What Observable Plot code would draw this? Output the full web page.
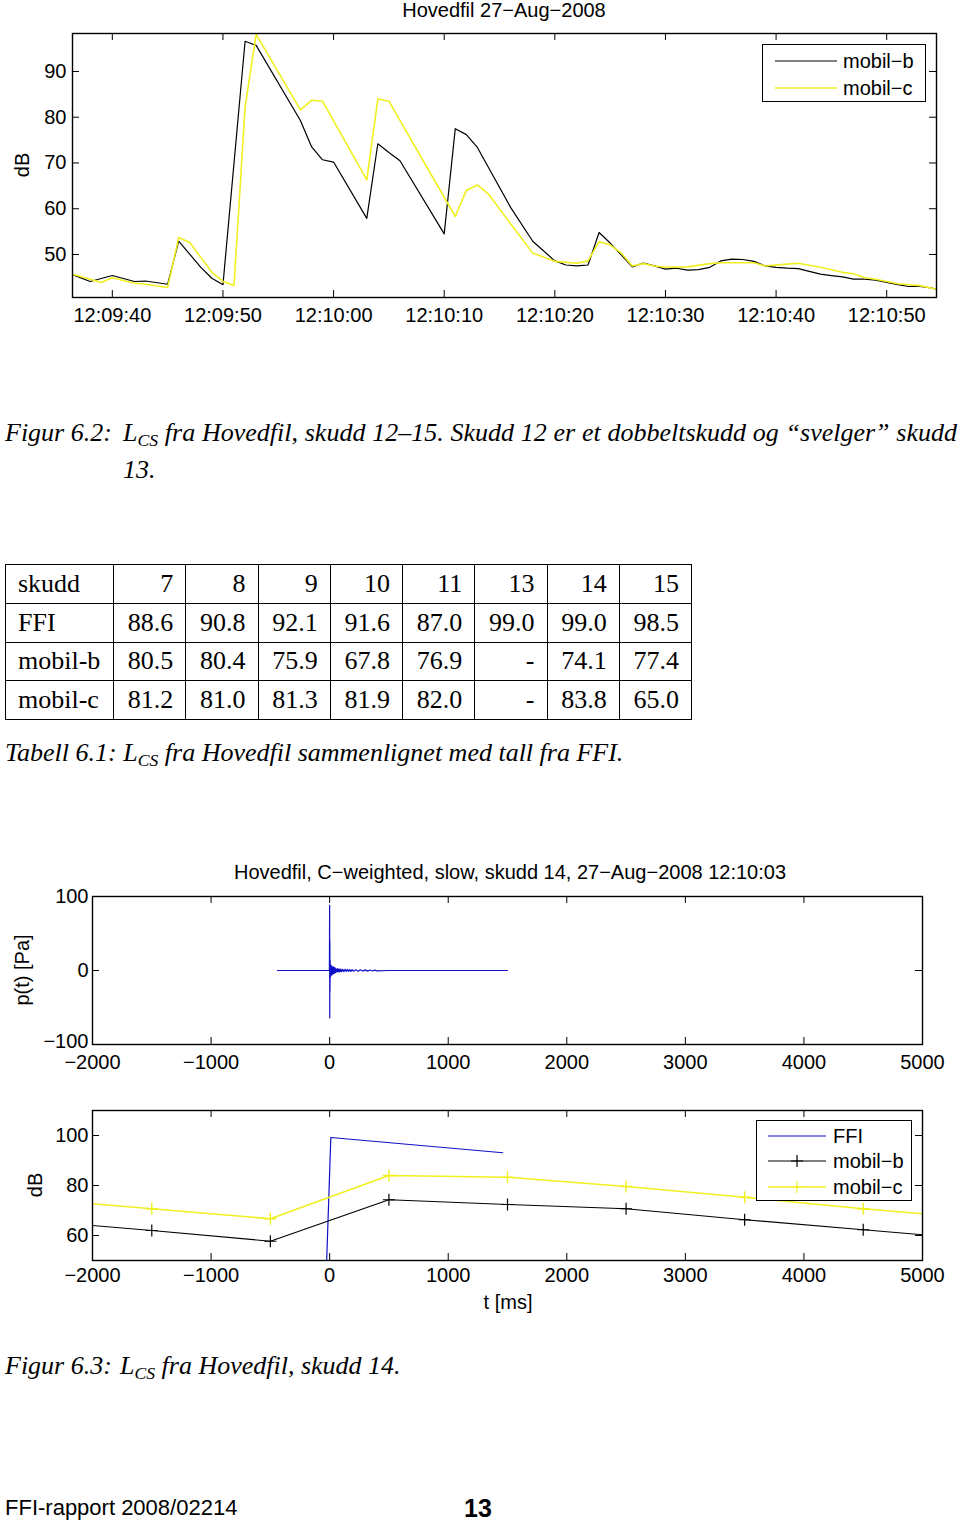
<!DOCTYPE html>
<html><head><meta charset="utf-8">
<script src="https://cdn.jsdelivr.net/npm/d3@7"></script>
<script src="https://cdn.jsdelivr.net/npm/@observablehq/plot@0.6"></script>
<style>
body{margin:0;background:#fff;}
#page{position:relative;width:960px;height:1524px;overflow:hidden;background:#fff;color:#000;}
.abs{position:absolute;white-space:nowrap;}
.sans{font-family:"Liberation Sans",Arial,sans-serif;font-size:20px;line-height:1;}
.serif{font-family:"Liberation Serif","Times New Roman",serif;font-size:26px;line-height:1;}
.it{font-style:italic;}
.vc{transform:translateY(-50%);}
.hc{transform:translate(-50%,-50%);}
.rot{transform:translate(-50%,-50%) rotate(-90deg);}
sub{font-size:0.68em;vertical-align:-0.28em;line-height:0;}
table.t{border-collapse:collapse;table-layout:fixed;width:686px;font-family:"Liberation Serif","Times New Roman",serif;font-size:26px;}
table.t td{border:1.5px solid #000;height:38.75px;padding:0 12px 0 12px;text-align:right;line-height:1;box-sizing:border-box;}
table.t td:first-child{text-align:left;}
.legend{position:absolute;border:1.3px solid #000;background:#fff;box-sizing:border-box;}
.legend .row{position:absolute;left:0;display:flex;align-items:center;}
.legend svg{display:block;}
</style></head>
<body><div id="page"></div>
<script>
// ---------- Figure 6.2 data (seconds after 12:09:40) ----------
const timeB = [-3.6,-2,0,2,3,5,6,8,9,10,12,13,17,18,19,20,23,24,25,26,30,31,32,33,36,38,40,41,42,43,44,45,46,47,48,49,50,51,52,53,54,55,56,57,58,59,60,61,62,63,64,65,66,67,68,69,70,71,72,73,74,74.5];
const dbB   = [45.6,44.1,45.4,44.1,44.2,43.5,52.9,47.2,44.8,43.4,96.6,95.7,79.3,73.6,70.7,70.2,57.9,74.2,72.3,70.5,54.5,77.5,76.2,73.4,60.3,52.9,48.6,47.7,47.5,47.7,54.8,52.5,49.9,47.3,48.1,47.5,46.8,47.0,46.6,46.7,47.2,48.6,49.0,48.9,48.5,47.5,47.2,47.0,46.9,46.3,45.7,45.4,45.1,44.6,44.6,44.4,43.9,43.4,43.0,43.0,42.7,42.4];
const timeC = [-3.6,-2,-1,0,2,3,5,6,7,9,10,11,12,13,17,18,19,23,24,25,31,32,33,34,36,38,40,42,43,44,45,46,47,48,49,50,52,54,55,58,59,61,62,64,66,67,68,69,71,73,74.5];
const dbC   = [45.7,44.6,43.9,44.9,43.7,43.5,42.8,53.7,52.6,46.1,44.1,43.2,82.2,98.1,81.6,83.7,83.5,66.3,84.0,83.5,58.3,64.0,65.2,63.2,56.7,50.3,48.5,48.1,48.6,52.8,52.1,50.3,47.5,48.0,47.5,47.2,47.3,48.0,48.2,48.2,47.5,47.9,48.1,47.2,46.1,45.8,44.9,44.6,43.6,43.2,42.4];
const xTicks1 = [0,10,20,30,40,50,60,70];
const yTicks1 = [50,60,70,80,90];

// ---------- Table 6.1 ----------
const shots   = ["7","8","9","10","11","13","14","15"];
const ffiVals = ["88.6","90.8","92.1","91.6","87.0","99.0","99.0","98.5"];
const mobB    = ["80.5","80.4","75.9","67.8","76.9","-","74.1","77.4"];
const mobC    = ["81.2","81.0","81.3","81.9","82.0","-","83.8","65.0"];

// ---------- Figure 6.3 data ----------
const pT  = [-440,-2,0,1,2,3,4,6,8,10,12,14,16,18,20,22,24,26,28,30,32,34,36,38,40,42,44,46,48,50,55,60,65,70,75,80,85,90,95,100,110,120,130,140,150,160,170,180,190,200,220,240,260,280,300,320,340,360,380,400,500,1500];
const pPa = [0,0,88,-64,40,-28,14,-9,8,-7,7,-6,6,-6,5,-5,5,-5,4,-4,5,-4,4,-4,3,-3,4,-3,3,-3,2,-2,2.5,-2,2,-2,2,-1.5,2,-1.5,1.5,-1.5,1.5,-1.2,1.5,-1.2,1.2,-1.2,1.2,-1,1,-1,1,-0.8,0.8,-0.8,0.6,-0.6,0.5,-0.5,0,0];
const ffiT  = [-25,10,1460];
const ffiDb = [50,99.2,93.1];
const tMs   = [-2000,-1500,-500,500,1500,2500,3500,4500,5000];
const bDb   = [64.0,62.0,57.7,74.3,72.4,70.7,66.3,62.3,60.3];
const cDb   = [72.7,70.7,66.7,84.0,83.3,79.6,75.3,70.7,68.7];
const xTicks2 = [-2000,-1000,0,1000,2000,3000,4000,5000];
const yTicks2 = [-100,0,100];
const yTicks3 = [60,80,100];

const YEL = "#f0f020", BLU = "#1010c8";
const fmtNum = d => (d < 0 ? "\u2212" : "") + Math.abs(d);
const plusSym = {draw(ctx, size) { const r = Math.sqrt(size / Math.PI); ctx.moveTo(-r, 0); ctx.lineTo(r, 0); ctx.moveTo(0, -r); ctx.lineTo(0, r); }};
const page = document.getElementById("page");
function add(html, cls, left, top, extra) {
  const d = document.createElement("div");
  d.className = "abs " + cls;
  d.style.left = left + "px"; d.style.top = top + "px";
  if (extra) Object.assign(d.style, extra);
  d.innerHTML = html;
  page.appendChild(d);
  return d;
}
function place(svg, top) {
  svg.style.position = "absolute"; svg.style.left = "0px"; svg.style.top = top + "px";
  page.appendChild(svg);
}
function boxTicks(xt, yt, fw, fh) {
  return [
    Plot.tickX(xt, {x: d => d, insetTop: fh - 7, stroke: "#000"}),
    Plot.tickX(xt, {x: d => d, insetBottom: fh - 7, stroke: "#000"}),
    Plot.tickY(yt, {y: d => d, insetRight: fw - 7, stroke: "#000"}),
    Plot.tickY(yt, {y: d => d, insetLeft: fw - 7, stroke: "#000"}),
    Plot.frame({stroke: "#000", strokeWidth: 1.4})
  ];
}
const style = {fontFamily: '"Liberation Sans", Arial, sans-serif', fontSize: "20px", color: "#000", background: "transparent", overflow: "visible"};

// ---------- Chart 1 ----------
const base = Date.UTC(2008, 7, 27, 12, 9, 40);
const toDate = s => new Date(base + s * 1000);
const serB = timeB.map((t, i) => ({t: toDate(t), v: dbB[i]}));
const serC = timeC.map((t, i) => ({t: toDate(t), v: dbC[i]}));
const xt1 = xTicks1.map(toDate);
{
  const W = 960, H = 310, mt = 11, mb = 35, ml = 72, mr = 24;
  const svg = Plot.plot({
    width: W, height: H, marginTop: mt, marginBottom: mb, marginLeft: ml, marginRight: mr,
    style,
    x: {type: "utc", domain: [toDate(-3.6), toDate(74.5)]},
    y: {domain: [40.6, 98.3]},
    marks: [
      Plot.line(serB, {x: "t", y: "v", stroke: "#000", strokeWidth: 1.2}),
      Plot.line(serC, {x: "t", y: "v", stroke: YEL, strokeWidth: 1.6}),
      ...boxTicks(xt1, yTicks1, W - ml - mr, H - mt - mb),
      Plot.axisX({ticks: xt1, tickSize: 0, tickPadding: 10, tickFormat: d3.utcFormat("%H:%M:%S"), label: null}),
      Plot.axisY({ticks: yTicks1, tickSize: 0, tickPadding: 6, label: null})
    ]
  });
  place(svg, 22);
}
add("Hovedfil 27−Aug−2008", "sans hc", 504, 10);
add("dB", "sans rot", 22, 165);
function legend(left, top, w, h, rows) {
  const d = document.createElement("div");
  d.className = "legend";
  Object.assign(d.style, {left: left + "px", top: top + "px", width: w + "px", height: h + "px"});
  rows.forEach(r => {
    const row = document.createElement("div");
    row.className = "row sans";
    row.style.top = (r.y - top - 11) + "px";
    row.style.height = "22px";
    row.style.left = (r.x0 - left - 1) + "px";
    const len = r.x1 - r.x0;
    row.innerHTML = `<svg width="${len}" height="22"><line x1="0" x2="${len}" y1="11" y2="11" stroke="${r.color}" stroke-width="${r.sw}"/>` +
      (r.marker ? `<path d="M${len/2-6},11H${len/2+6}M${len/2},5V17" stroke="${r.color}" stroke-width="1.2"/>` : "") +
      `</svg><span style="margin-left:${r.gap}px">${r.label}</span>`;
    d.appendChild(row);
  });
  page.appendChild(d);
}
legend(762, 44, 164, 58, [
  {y: 60, x0: 775, x1: 837, color: "#000", sw: 1.2, label: "mobil−b", gap: 6},
  {y: 87, x0: 775, x1: 837, color: YEL, sw: 1.6, label: "mobil−c", gap: 6}
]);

// ---------- Caption 6.2 ----------
add("Figur 6.2:", "serif it vc", 5, 433);
const cap1 = add('<i>L</i><sub>CS</sub> fra Hovedfil, skudd 12–15. Skudd 12 er et dobbeltskudd og “svelger” skudd', "serif it vc", 123, 433);
add("13.", "serif it vc", 123, 470);

// ---------- Table ----------
{
  const tbl = document.createElement("table");
  tbl.className = "t";
  const rows = [["skudd", ...shots], ["FFI", ...ffiVals], ["mobil-b", ...mobB], ["mobil-c", ...mobC]];
  tbl.innerHTML = '<colgroup><col style="width:108px">' + shots.map(() => '<col style="width:72.25px">').join("") + "</colgroup>" +
    rows.map(r => "<tr>" + r.map(c => `<td>${c}</td>`).join("") + "</tr>").join("");
  const d = add("", "", 5, 564);
  d.appendChild(tbl);
}
add('Tabell 6.1: <i>L</i><sub>CS</sub> fra Hovedfil sammenlignet med tall fra FFI.', "serif it vc", 5, 753);

// ---------- Chart 2 ----------
{
  const W = 960, H = 190, mt = 12, mb = 30, ml = 92, mr = 38;
  const data = pT.map((t, i) => ({t, p: pPa[i]}));
  const svg = Plot.plot({
    width: W, height: H, marginTop: mt, marginBottom: mb, marginLeft: ml, marginRight: mr, style,
    x: {domain: [-2000, 5000]},
    y: {domain: [-100, 100]},
    marks: [
      Plot.line(data, {x: "t", y: "p", stroke: BLU, strokeWidth: 1.2, clip: true}),
      ...boxTicks(xTicks2, yTicks2, W - ml - mr, H - mt - mb),
      Plot.axisX({ticks: xTicks2, tickSize: 0, tickPadding: 10, tickFormat: fmtNum, label: null}),
      Plot.axisY({ticks: yTicks2.filter(d => d > -100), tickSize: 0, tickPadding: 4, tickFormat: fmtNum, label: null}),
      Plot.axisY({ticks: yTicks2.filter(d => d === -100), tickSize: 0, tickPadding: 4, dy: -3, tickFormat: fmtNum, label: null})
    ]
  });
  place(svg, 884);
}
add("Hovedfil, C−weighted, slow, skudd 14, 27−Aug−2008 12:10:03", "sans hc", 510, 872);
add("p(t) [Pa]", "sans rot", 22, 970);

// ---------- Chart 3 ----------
{
  const W = 960, H = 190, mt = 12, mb = 28, ml = 92, mr = 38;
  const ffi = ffiT.map((t, i) => ({t, v: ffiDb[i]}));
  const sb = tMs.map((t, i) => ({t, v: bDb[i]}));
  const sc = tMs.map((t, i) => ({t, v: cDb[i]}));
  const inner = d => d.t > -2000 && d.t < 5000;
  const svg = Plot.plot({
    width: W, height: H, marginTop: mt, marginBottom: mb, marginLeft: ml, marginRight: mr, style,
    x: {domain: [-2000, 5000]},
    y: {domain: [50, 110]},
    marks: [
      Plot.line(ffi, {x: "t", y: "v", stroke: BLU, strokeWidth: 1.2, clip: true}),
      Plot.line(sb, {x: "t", y: "v", stroke: "#000", strokeWidth: 1.2}),
      Plot.dot(sb.filter(inner), {x: "t", y: "v", symbol: plusSym, r: 6, fill: "none", stroke: "#000", strokeWidth: 1.2}),
      Plot.line(sc, {x: "t", y: "v", stroke: YEL, strokeWidth: 1.6}),
      Plot.dot(sc.filter(inner), {x: "t", y: "v", symbol: plusSym, r: 6, fill: "none", stroke: YEL, strokeWidth: 1.4}),
      ...boxTicks(xTicks2, yTicks3, W - ml - mr, H - mt - mb),
      Plot.axisX({ticks: xTicks2, tickSize: 0, tickPadding: 7, tickFormat: fmtNum, label: null}),
      Plot.axisY({ticks: yTicks3, tickSize: 0, tickPadding: 4, label: null})
    ]
  });
  place(svg, 1098);
}
add("dB", "sans rot", 35, 1185);
add("t [ms]", "sans hc", 508, 1302);
legend(756, 1120, 156, 81, [
  {y: 1135, x0: 768, x1: 826, color: BLU, sw: 1.2, label: "FFI", gap: 7},
  {y: 1160, x0: 768, x1: 826, color: "#000", sw: 1.2, label: "mobil−b", gap: 7, marker: true},
  {y: 1186, x0: 768, x1: 826, color: YEL, sw: 1.6, label: "mobil−c", gap: 7, marker: true}
]);

// ---------- Caption 6.3 & footer ----------
add("Figur 6.3:", "serif it vc", 5, 1366);
add('<i>L</i><sub>CS</sub> fra Hovedfil, skudd 14.', "serif it vc", 120, 1366);
add("FFI-rapport 2008/02214", "sans vc", 5, 1508, {fontSize: "22px"});
add("13", "sans hc", 478, 1508, {fontSize: "25px", fontWeight: "bold"});

// justify first caption line to the text block's right edge
{
  const w = cap1.getBoundingClientRect().width;
  const n = (cap1.textContent.match(/ /g) || []).length;
  cap1.style.wordSpacing = ((957 - 123 - w) / n) + "px";
}
</script>
</body></html>
